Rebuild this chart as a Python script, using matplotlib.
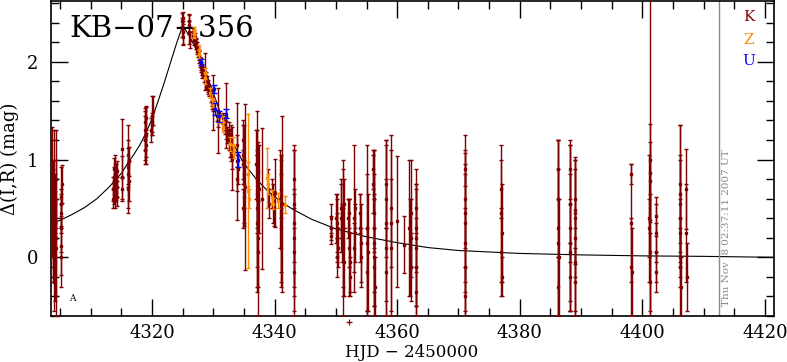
import matplotlib
matplotlib.use("Agg")
import matplotlib.pyplot as plt
from matplotlib.ticker import MultipleLocator

# KMT-style light curve, telescope K (dark red)
k_t = [4303.6, 4303.7, 4303.75, 4303.8, 4303.85, 4303.9, 4304.0, 4304.05, 4304.1, 4304.15,
       4304.2, 4304.25, 4304.3, 4304.35, 4304.0, 4303.7,
       4305.1, 4305.15, 4305.2, 4305.2, 4305.25, 4305.1, 4305.2,
       4313.6, 4313.7, 4313.75, 4313.8, 4313.85, 4313.9, 4313.95, 4314.0, 4314.05, 4314.1,
       4314.15, 4314.2, 4314.25, 4314.3,
       4315.1, 4315.15, 4315.1,
       4316.0, 4316.05, 4316.1, 4316.15, 4316.1, 4316.2,
       4318.8, 4318.85, 4318.9, 4318.95, 4319.0, 4319.05, 4318.9,
       4319.9, 4320.0, 4320.05, 4320.1, 4320.0,
       4324.9, 4324.95, 4325.0, 4325.05, 4325.1,
       4326.0, 4326.1, 4326.15, 4326.1,
       4326.6, 4326.7, 4326.8, 4326.9, 4327.0, 4327.1, 4327.2, 4327.3, 4327.4,
       4327.5, 4327.6, 4327.7, 4327.8, 4327.9, 4328.0, 4328.1, 4328.2, 4328.3, 4328.4,
       4328.7, 4328.75, 4328.8,
       4329.0, 4329.1, 4329.2, 4329.3,
       4329.6, 4329.7, 4329.8, 4329.9, 4329.95,
       4330.6, 4330.7, 4330.8,
       4331.5, 4331.7, 4331.9, 4332.0, 4332.1, 4332.3,
       4332.5, 4332.6, 4332.7, 4332.8, 4332.9, 4333.0, 4333.1,
       4333.85, 4333.9, 4333.95, 4333.9,
       4334.8, 4334.85, 4334.9, 4334.95, 4335.0, 4335.0, 4334.9, 4335.1,
       4337.0, 4337.05, 4337.1, 4337.15, 4337.2, 4337.25, 4337.3, 4337.35, 4337.4, 4337.2,
       4338.0,
       4338.9, 4339.0,
       4339.5, 4339.7, 4339.9,
       4340.1,
       4340.9, 4341.0, 4341.1, 4341.2, 4341.1, 4341.0,
       4343.1, 4343.1, 4343.15, 4343.1, 4343.15, 4343.1,
       4349.2, 4349.2, 4349.25,
       4350.0, 4350.1, 4350.2, 4350.3, 4350.15, 4350.25,
       4350.8, 4350.9, 4351.0, 4351.1, 4351.2, 4351.25, 4351.3, 4351.15,
       4352.0, 4352.1, 4352.2, 4352.3, 4352.15, 4352.25,
       4353.0, 4353.05, 4353.0, 4353.1,
       4354.0, 4354.05, 4354.1, 4354.0,
       4355.0, 4355.1, 4355.2, 4355.15,
       4356.1, 4356.15, 4356.2, 4356.25, 4356.3, 4356.2, 4356.15, 4356.25, 4356.1,
       4358.1, 4358.15, 4358.2, 4358.15, 4358.1,
       4359.0, 4359.0, 4359.05,
       4360.0,
       4361.1,
       4362.0, 4362.1, 4362.2, 4362.25, 4362.3,
       4363.0, 4363.05, 4363.1, 4363.15, 4363.1, 4363.05,
       4371.0, 4371.05, 4371.1, 4371.0, 4371.1, 4371.05, 4371.0,
       4377.0, 4377.05, 4377.0, 4377.05, 4377.0,
       4386.2, 4386.3, 4386.35, 4386.25, 4386.3, 4386.2,
       4388.2, 4388.2, 4388.25, 4388.2, 4388.15, 4388.2,
       4389.0, 4389.0, 4389.05, 4389.0, 4389.05, 4389.0,
       4398.2, 4398.2, 4398.2, 4398.25,
       4401.3, 4401.2, 4401.15, 4401.2, 4401.25, 4401.2, 4401.1,
       4402.2, 4402.25, 4402.3, 4402.2,
       4406.2, 4406.2, 4406.2, 4406.2, 4406.2, 4406.25, 4406.2, 4406.15,
       4407.2, 4407.2, 4407.25]
k_mag = [0.45, 0.30, 0.60, 0.15, 0.05, 0.40, 0.70, 0.25, -0.05, 0.55,
         0.35, 0.10, 0.80, 0.20, -0.25, 0.85,
         0.62, 0.45, 0.30, 0.12, 0.75, 0.00, 0.55,
         0.60, 0.70, 0.82, 0.90, 0.65, 0.75, 0.95, 0.58, 0.85, 0.68,
         0.78, 0.88, 0.72, 0.62,
         1.11, 0.82, 0.70,
         1.05, 0.92, 0.85, 0.78, 0.70, 0.98,
         1.20, 1.30, 1.38, 1.15, 1.25, 1.42, 1.10,
         1.30, 1.45, 1.38, 1.50, 1.35,
         2.42, 2.35, 2.30, 2.45, 2.25,
         2.38, 2.30, 2.22, 2.42,
         2.30, 2.26, 2.28, 2.22, 2.25, 2.18, 2.20, 2.15, 2.12,
         2.10, 2.05, 2.07, 2.00, 1.98, 1.95, 1.92, 1.88, 1.90, 1.85,
         1.90, 1.82, 1.78,
         1.80, 1.75, 1.72, 1.70,
         1.65, 1.60, 1.58, 1.55, 1.58,
         1.45, 1.40, 1.40,
         1.42, 1.38, 1.33, 1.30, 1.45, 1.25,
         1.30, 1.20, 1.15, 1.08, 1.25, 1.02, 1.01,
         0.80, 0.98, 0.90, 1.15,
         1.20, 1.05, 0.95, 0.85, 0.75, 0.62, 0.50, 0.72,
         0.95, 0.80, 0.65, 0.50, 0.35, 0.20, 0.05, 0.88, 0.70, 0.60,
         0.60,
         0.70, 0.55,
         0.65, 0.55, 0.50,
         0.66,
         0.60, 0.45, 0.30, 0.55, 0.10, 0.70,
         0.80, 0.55, 0.35, 0.20, 0.05, -0.15,
         0.40, 0.30, 0.22,
         0.40, 0.30, 0.20, 0.10, 0.00, 0.35,
         0.50, 0.40, 0.25, 0.10, 0.30, -0.05, 0.55, 0.15,
         0.40, 0.25, 0.10, -0.05, 0.45, -0.20,
         0.40, 0.25, 0.10, 0.50,
         0.30, 0.15, 0.00, 0.45,
         0.30, 0.15, 0.05, -0.15,
         0.90, 0.60, 0.30, 0.00, -0.30, 0.45, 0.15, -0.10, 0.75,
         0.60, 0.35, 0.10, -0.15, 0.75,
         0.35, 0.10, 0.50,
         0.37,
         0.13,
         0.30, 0.10, -0.10, 0.45, 0.20,
         0.50, 0.30, 0.10, -0.10, -0.35, 0.20,
         0.90, 0.60, 0.35, 0.15, -0.10, -0.40, 0.45,
         0.45, 0.25, 0.05, -0.20, 0.70,
         0.60, 0.30, 0.00, 0.90, -0.30, 0.15,
         0.90, 0.55, 0.30, 0.15, 0.05, -0.20,
         0.60, 0.40, 0.20, -0.05, -0.25, 0.48,
         0.35, -0.10, 0.85, -0.15,
         1.00, 0.86, 0.40, 0.05, -0.25, 0.78, 0.30,
         0.42, 0.25, 0.05, -0.15,
         0.75, 0.55, 0.25, 0.00, -0.10, -0.30, 0.65, 0.40,
         0.70, 0.25, -0.20]
k_err = [0.35, 0.30, 0.40, 0.35, 0.30, 0.50, 0.60, 0.45, 0.40, 0.30,
         0.25, 0.50, 0.50, 0.80, 0.30, 0.48,
         0.30, 0.20, 0.25, 0.30, 0.19, 0.30, 0.15,
         0.10, 0.12, 0.10, 0.12, 0.10, 0.08, 0.10, 0.08, 0.10, 0.09,
         0.12, 0.10, 0.10, 0.10,
         0.30, 0.22, 0.12,
         0.30, 0.20, 0.35, 0.20, 0.25, 0.15,
         0.25, 0.20, 0.15, 0.12, 0.30, 0.12, 0.10,
         0.12, 0.20, 0.10, 0.15, 0.10,
         0.08, 0.10, 0.12, 0.06, 0.08,
         0.10, 0.12, 0.08, 0.07,
         0.04, 0.05, 0.04, 0.05, 0.04, 0.05, 0.04, 0.05, 0.04,
         0.05, 0.06, 0.05, 0.05, 0.06, 0.05, 0.06, 0.05, 0.05, 0.06,
         0.19, 0.08, 0.06,
         0.05, 0.06, 0.05, 0.05,
         0.06, 0.05, 0.06, 0.05, 0.28,
         0.06, 0.33, 0.07,
         0.06, 0.08, 0.07, 0.09, 0.33, 0.08,
         0.08, 0.10, 0.12, 0.10, 0.10, 0.12, 0.32,
         0.12, 0.60, 0.15, 0.10,
         0.20, 0.30, 0.15, 0.50, 0.25, 0.30, 0.20, 0.85,
         0.35, 0.50, 0.40, 0.60, 0.70, 0.50, 0.65, 0.30, 0.45, 0.90,
         0.72,
         0.20, 0.15,
         0.15, 0.20, 0.18,
         0.35,
         0.50, 0.60, 0.55, 0.90, 0.40, 0.30,
         0.30, 0.60, 0.75, 0.50, 0.60, 0.45,
         0.15, 0.12, 0.08,
         0.25, 0.30, 0.25, 0.20, 0.20, 0.30,
         0.30, 0.35, 0.30, 0.40, 0.70, 0.35, 0.25, 0.75,
         0.20, 0.35, 0.50, 0.30, 0.15, 0.20,
         0.75, 0.30, 0.25, 0.20,
         0.35, 0.40, 0.30, 0.20,
         0.85, 0.70, 0.60, 0.45,
         0.20, 0.50, 0.80, 0.60, 0.30, 0.40, 0.50, 0.40, 0.30,
         0.60, 0.80, 0.70, 0.45, 0.45,
         0.90, 0.70, 0.60,
         0.67,
         0.29,
         0.70, 0.50, 0.35, 0.55, 0.40,
         0.25, 0.45, 0.60, 0.50, 0.25, 0.70,
         0.17, 0.50, 0.60, 0.70, 0.60, 0.30, 0.80,
         0.70, 0.50, 0.45, 0.20, 0.30,
         0.60, 0.90, 0.60, 0.30, 0.30, 0.75,
         0.30, 0.60, 0.85, 0.70, 0.50, 0.35,
         0.30, 0.60, 0.80, 0.50, 0.35, 0.55,
         0.60, 0.50, 0.10, 0.45,
         1.70, 0.50, 0.65, 0.60, 0.50, 0.40, 0.30,
         0.20, 0.30, 0.30, 0.20,
         0.60, 0.50, 0.35, 0.30, 0.50, 0.30, 0.70, 0.60,
         0.41, 0.50, 0.35]

# telescope Z (orange)
z_t = [4326.8, 4326.9, 4327.6, 4327.7, 4328.6, 4328.7, 4329.5, 4329.7, 4329.9, 4331.0,
       4331.5, 4331.6, 4332.7, 4333.2, 4333.3, 4335.7, 4335.7, 4335.75, 4338.8, 4338.9,
       4339.6, 4339.8, 4340.6, 4341.7]
z_mag = [2.30, 2.28, 2.12, 2.08, 1.88, 1.83, 1.68, 1.62, 1.58, 1.42,
         1.38, 1.33, 1.16, 1.15, 1.08, 0.68, 0.85, 0.60, 0.81, 0.75,
         0.62, 0.55, 0.58, 0.54]
z_err = [0.05, 0.04, 0.05, 0.04, 0.06, 0.06, 0.05, 0.06, 0.04, 0.05,
         0.07, 0.05, 0.07, 0.08, 0.06, 0.79, 0.12, 0.10, 0.31, 0.10,
         0.07, 0.06, 0.08, 0.09]

# telescope U (blue)
u_t = [4327.9, 4330.1, 4330.2, 4331.0, 4332.1, 4334.1]
u_mag = [2.00, 1.72, 1.52, 1.44, 1.47, 1.00]
u_err = [0.03, 0.04, 0.06, 0.06, 0.05, 0.08]

# one K point that falls below the plotted range
low_t = [4352.1]
low_mag = [-0.66]

# model curve
model_t = [4303.4, 4305, 4307, 4309, 4311, 4313, 4315, 4316, 4317, 4318, 4319, 4320,
           4321, 4322, 4323, 4324, 4325, 4326, 4327, 4328, 4329, 4330, 4331, 4332,
           4333, 4334, 4335, 4337, 4339, 4341, 4343, 4346, 4350, 4355, 4360, 4365,
           4370, 4380, 4390, 4400, 4410, 4422]
model_mag = [0.34, 0.38, 0.44, 0.51, 0.60, 0.72, 0.86, 0.96, 1.05, 1.15, 1.27, 1.42,
             1.60, 1.79, 1.99, 2.19, 2.37, 2.27, 2.15, 2.01, 1.85, 1.68, 1.50, 1.35,
             1.20, 1.07, 0.96, 0.80, 0.67, 0.57, 0.49, 0.39, 0.29, 0.21, 0.15, 0.10,
             0.07, 0.04, 0.025, 0.015, 0.01, 0.0]

stamp_t = 4412.5
dark = '#800000'
orange = '#ff8c00'
blue = '#0000ff'

plt.rcParams['font.family'] = ['DejaVu Serif']
fig = plt.figure(figsize=(7.87, 3.62), dpi=100)
ax = fig.add_axes([0.0648, 0.127, 0.9187, 0.870])

ax.plot(model_t, model_mag, color='black', lw=0.8, zorder=1)

ax.errorbar(k_t, k_mag, yerr=k_err, fmt='s', ms=1.6, color=dark, ecolor=dark,
            elinewidth=1.0, capsize=1.5, capthick=1.0, zorder=3)
ax.errorbar(z_t, z_mag, yerr=z_err, fmt='s', ms=1.6, color=orange, ecolor=orange,
            elinewidth=1.0, capsize=1.5, capthick=1.0, zorder=4)
ax.errorbar(u_t, u_mag, yerr=u_err, fmt='s', ms=1.6, color=blue, ecolor=blue,
            elinewidth=1.0, capsize=2, capthick=1.0, zorder=5)
ax.plot(low_t, low_mag, '+', color=dark, ms=4, mew=0.9, clip_on=False)

ax.axvline(stamp_t, color='#888888', lw=1)

ax.set_xlim(4303.5, 4421.5)
ax.set_ylim(-0.6, 2.62)
ax.xaxis.set_major_locator(MultipleLocator(20))
ax.xaxis.set_minor_locator(MultipleLocator(5))
ax.yaxis.set_major_locator(MultipleLocator(1))
ax.yaxis.set_minor_locator(MultipleLocator(0.2))
ax.tick_params(which='both', direction='in', top=True, right=True, width=1,
               labelsize=13)
ax.tick_params(axis='x', pad=6)
ax.tick_params(axis='y', pad=9)
ax.tick_params(which='major', length=12)
ax.tick_params(which='minor', length=6)
for s in ax.spines.values():
    s.set_linewidth(1.2)

# x label placed by hand so it sits inside the figure
fig.text(412 / 787, 1 / 362, 'HJD \u2212 2450000', fontsize=12, ha='center', va='bottom')
ax.set_ylabel('\u0394(I,R) (mag)', fontsize=13, labelpad=6)

ax.text(0.026, 0.886, 'KB\u221207\u2212356', transform=ax.transAxes, fontsize=21,
        va='baseline', ha='left')
ax.text(0.029, 0.057, 'A', transform=ax.transAxes, fontsize=6.5, ha='center', va='center')

ax.text(0.965, 0.949, 'K', color=dark, transform=ax.transAxes, fontsize=11, ha='center', va='center')
ax.text(0.965, 0.876, 'Z', color=orange, transform=ax.transAxes, fontsize=11, ha='center', va='center')
ax.text(0.965, 0.810, 'U', color=blue, transform=ax.transAxes, fontsize=11, ha='center', va='center')

ax.text(0.934, 0.032, 'Thu Nov  8 02:37:11 2007 UT', color='#888888', transform=ax.transAxes,
        fontsize=7.5, rotation=90, ha='center', va='bottom')

fig.savefig('out.png', dpi=100)
